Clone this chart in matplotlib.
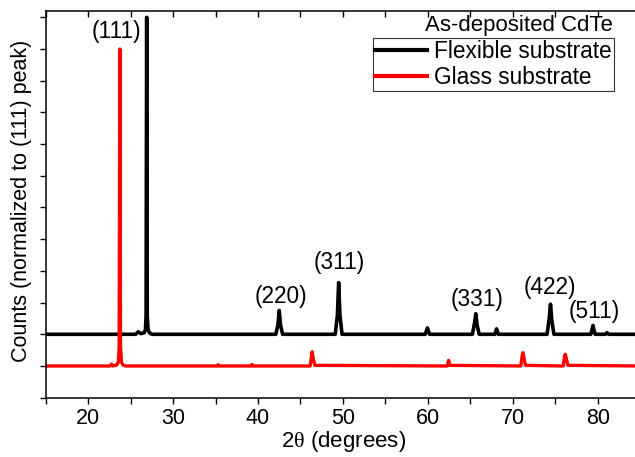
import matplotlib
matplotlib.use("Agg")
import matplotlib.pyplot as plt
from matplotlib.ticker import MultipleLocator, NullFormatter

plt.rcParams["font.family"] = ["Liberation Sans", "DejaVu Sans"]
plt.rcParams["mathtext.fontset"] = "custom"
plt.rcParams["mathtext.rm"] = "Liberation Serif"

# flexible substrate trace (offset by +1)
flex_2theta = [15, 25.6, 25.9, 26.2, 26.6, 26.75, 26.82, 26.89, 26.96, 27.05, 27.2, 27.5,
               42.1, 42.35, 42.5, 42.65, 42.9,
               49.1, 49.35, 49.5, 49.65, 49.9,
               59.7, 59.95, 60.2,
               65.25, 65.5, 65.65, 65.8, 66.05,
               67.9, 68.1, 68.3,
               74.05, 74.3, 74.45, 74.6, 74.85,
               79.2, 79.45, 79.7,
               80.9, 81.1, 81.3, 85]
flex_counts = [1.0, 1.0, 1.08, 1.02, 1.05, 1.15, 1.6, 11.0, 1.6, 1.15, 1.05, 1.0,
               1.0, 1.3, 1.75, 1.3, 1.0,
               1.0, 1.6, 2.63, 1.6, 1.0,
               1.0, 1.2, 1.0,
               1.0, 1.35, 1.65, 1.3, 1.0,
               1.0, 1.17, 1.0,
               1.0, 1.5, 1.95, 1.45, 1.0,
               1.0, 1.28, 1.0,
               1.0, 1.05, 1.0, 1.0]

# glass substrate trace
glass_2theta = [15, 22.6, 22.75, 22.9, 23.35, 23.55, 23.65, 23.73, 23.81, 23.92, 24.1, 24.4,
                35.2, 35.3, 35.4,
                39.2, 39.3, 39.4,
                46.15, 46.3, 46.38, 46.46, 46.7,
                62.3, 62.45, 62.6,
                70.95, 71.1, 71.2, 71.3, 71.5,
                75.95, 76.1, 76.2, 76.3, 76.5, 85]
glass_counts = [0.0, 0.0, 0.06, 0.0, 0.03, 0.12, 0.6, 10.0, 0.6, 0.12, 0.03, 0.0,
                0.0, 0.04, 0.0,
                0.0, 0.05, 0.0,
                0.0, 0.3, 0.45, 0.3, 0.02,
                0.0, 0.18, 0.02,
                0.0, 0.3, 0.42, 0.3, 0.02,
                0.0, 0.3, 0.37, 0.25, 0.02, 0.0]

# reflection labels
hkl = ["(111)", "(220)", "(311)", "(331)", "(422)", "(511)"]
hkl_x = [23.3, 42.7, 49.6, 65.85, 74.35, 79.6]
hkl_y = [10.55, 2.2, 3.25, 2.1, 2.47, 1.73]

fig = plt.figure(figsize=(6.35, 4.57), dpi=100)
ax = fig.add_axes([0.072, 0.1298, 0.936, 0.8462])

ax.plot(flex_2theta, flex_counts, color="black", lw=2.6,
        solid_joinstyle="round", label="Flexible substrate")
ax.plot(glass_2theta, glass_counts, color="red", lw=2.4,
        solid_joinstyle="round", label="Glass substrate")

for lab, x, y in zip(hkl, hkl_x, hkl_y):
    ax.text(x, y, lab, ha="center", va="center", fontsize=16.3)

ax.set_xlim(15, 85)
ax.set_ylim(-1, 11.2)
ax.xaxis.set_major_locator(MultipleLocator(10))
ax.xaxis.set_minor_locator(MultipleLocator(5))
ax.yaxis.set_major_locator(MultipleLocator(1))
ax.yaxis.set_major_formatter(NullFormatter())
ax.tick_params(axis="x", which="both", direction="out", length=4, width=1,
               labelsize=15.5, top=False)
ax.tick_params(axis="y", which="both", direction="out", length=4, width=1,
               right=False)
ax.spines["right"].set_visible(False)
for s in ["left", "bottom", "top"]:
    ax.spines[s].set_linewidth(1.1)

# inward ticks along the top edge
sec = ax.secondary_xaxis("top")
sec.xaxis.set_major_locator(MultipleLocator(5))
sec.tick_params(direction="in", length=4, width=1, labeltop=False)
sec.spines["top"].set_visible(False)

ax.set_ylabel("Counts (normalized to (111) peak)", fontsize=15.5, va="center")
ax.yaxis.set_label_coords(22 / 635, 1 - 201 / 457, transform=fig.transFigure)
fig.text(344 / 635, 1 - 441 / 457, r"2$\mathrm{\theta}$ (degrees)", fontsize=16,
         ha="center", va="center")

leg = ax.legend(loc="upper right", bbox_to_anchor=(614 / 635, 1 - 38 / 457),
                bbox_transform=fig.transFigure, fontsize=16.3, frameon=True,
                fancybox=False, handlelength=2.3, handletextpad=0.3,
                borderpad=0.1, labelspacing=0.1, borderaxespad=0)
leg.get_frame().set_edgecolor("black")
leg.get_frame().set_linewidth(0.8)
for line in leg.get_lines():
    line.set_linewidth(3)
fig.text(613 / 635, 1 - 26 / 457, "As-deposited CdTe", fontsize=16,
         ha="right", va="center")

fig.savefig("out.png", dpi=100)
